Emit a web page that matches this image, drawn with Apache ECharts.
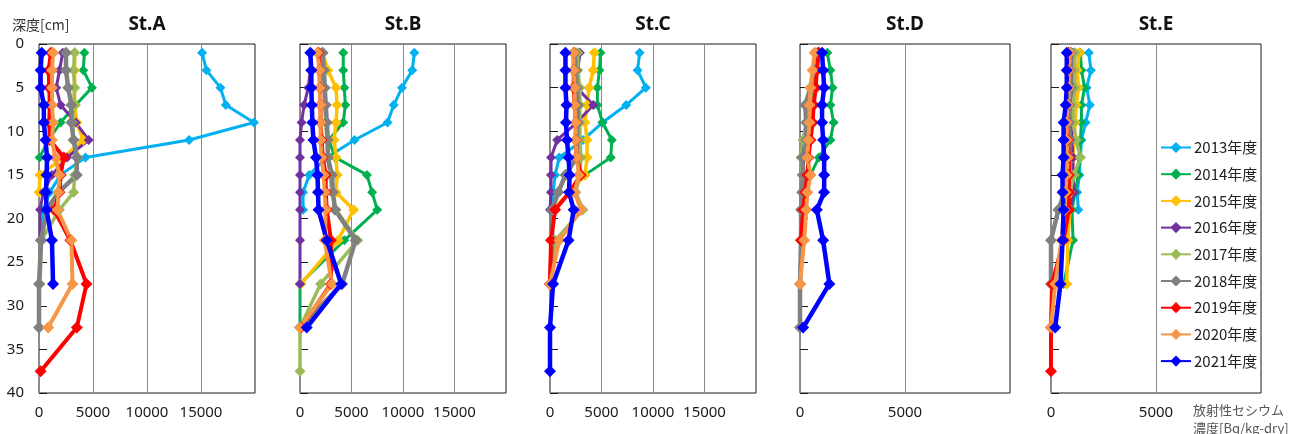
<!DOCTYPE html>
<html>
<head>
<meta charset="utf-8">
<script src="https://cdn.jsdelivr.net/npm/echarts@6/dist/echarts.min.js"></script>
<style>
  html, body { margin: 0; padding: 0; background: #fff; }
  #chart { width: 1293px; height: 434px; }
</style>
</head>
<body>
<div id="chart"></div>
<script>
// Sampling depths (cm) shared by every station
const depths = [1, 3, 5, 7, 9, 11, 13, 15, 17, 19, 22.5, 27.5, 32.5, 37.5];

const years = ['2013年度', '2014年度', '2015年度', '2016年度', '2017年度', '2018年度', '2019年度', '2020年度', '2021年度'];
const yearColors = ['#00B0F0', '#00B050', '#FFC000', '#7030A0', '#9BBB59', '#808080', '#FF0000', '#F79646', '#0000FF'];

const stations = ['St.A', 'St.B', 'St.C', 'St.D', 'St.E'];
const xMax = [20000, 20000, 20000, 10000, 10000];
const depthTicks = [0, 5, 10, 15, 20, 25, 30, 35, 40];

// Radiocaesium concentration (Bq/kg-dry) per year, one value per depth (null = not measured)
const stA = [
  [15100, 15500, 16800, 17300, 19900, 13900, 4300, 2000, 1000, 400, 300, null, null, null],
  [4200, 4100, 4900, 3400, 2000, 900, 50, null, null, null, null, null, null, null],
  [3300, 3300, 3300, 3300, 3500, 4100, 2300, 100, 0, null, null, null, null, null],
  [2200, 1900, 1600, 2000, 3400, 4600, 2600, 1200, 400, 100, 100, null, null, null],
  [3300, 3200, 3300, 3200, 3100, 3200, 3600, 3300, 3200, 1900, 200, 100, null, null],
  [2500, 2500, 2700, 3000, 3000, 3200, 3500, 3500, 1800, 700, 200, 0, 0, null],
  [1100, 900, 950, 1000, 950, 1000, 2300, 2000, 1900, 1400, 2900, 4400, 3500, 150],
  [1300, 1200, 1200, 1200, 1300, 1200, 1500, 1900, 1800, 1700, 3000, 3100, 850, null],
  [250, 150, 150, 450, 450, 600, 750, 700, 650, 700, 1200, 1300, null, null]
];
const stB = [
  [11100, 10900, 9900, 9100, 8500, 5300, 2600, 900, 300, 300, null, null, null, null],
  [4200, 4200, 4300, 4400, 4200, 2800, 3400, 6500, 7000, 7500, 4300, 0, 0, null],
  [2200, 2700, 3500, 3600, 3500, 3300, 3500, 3600, 3500, 5200, 3700, 100, null, null],
  [1000, 1000, 800, 400, 150, 0, 0, 0, 0, 0, 0, 0, null, null],
  [2100, 2400, 2400, 2400, 2500, 2600, 2700, 2900, 3100, 3500, 5600, 2000, 0, 0],
  [2200, 2300, 2400, 2500, 2600, 2700, 2700, 3100, 3200, 3400, 5400, 4100, 0, null],
  [1800, 1900, 1950, 2000, 2000, 2100, 2200, 2500, 2500, 2600, 3000, 3000, 100, null],
  [1700, 1900, 1900, 2000, 2000, 2000, 2100, 2300, 2400, 2500, 2400, 3100, 0, null],
  [1000, 1100, 1100, 1150, 1200, 1300, 1550, 1700, 1750, 1800, 2600, 4000, 650, null]
];
const stC = [
  [8700, 8500, 9300, 7400, 5100, 3200, 900, 500, 300, 200, null, null, null, null],
  [4900, 4800, 4600, 4600, 5100, 6000, 5900, 3400, null, null, null, null, null, null],
  [4300, 4200, 3800, 3600, 3400, 3600, 3600, 3400, 1900, 300, null, null, null, null],
  [2900, 2700, 2600, 4200, 2600, 700, 100, 100, 100, 0, null, null, null, null],
  [2700, 2700, 2900, 2900, 2900, 2900, 3000, 2900, 2500, 3200, 500, 0, null, null],
  [2400, 2500, 2600, 2700, 2700, 2600, 2600, 1500, 800, 200, 200, 0, null, null],
  [2300, 2300, 2300, 2400, 2500, 2500, 2600, 3000, 1900, 500, 100, 0, null, null],
  [2300, 2300, 2400, 2400, 2500, 2500, 2600, 2800, 2400, 3000, 900, 0, null, null],
  [1500, 1500, 1500, 1600, 1550, 1650, 1800, 1900, 1850, 2300, 1800, 300, 0, 0]
];
const stD = [
  [null, null, null, null, null, null, null, null, null, null, null, null, null, null],
  [1300, 1450, 1550, 1450, 1600, 1450, 900, 500, null, null, null, null, null, null],
  [null, null, null, null, null, null, null, null, null, null, null, null, null, null],
  [800, 700, 600, 500, 300, 150, 200, 100, null, null, null, null, null, null],
  [900, 800, 650, 500, 300, 150, 50, 100, null, null, null, null, null, null],
  [850, 700, 500, 250, 300, 300, 100, 150, 100, 50, 50, 0, 0, null],
  [900, 800, 750, 650, 600, 500, 400, 350, 250, 150, 50, null, null, null],
  [700, 600, 500, 450, 450, 400, 350, 500, 350, 300, 200, 0, null, null],
  [1050, 1100, 1150, 1050, 1050, 1100, 1150, 1150, 1150, 800, 1100, 1400, 150, null]
];
const stE = [
  [1800, 1900, 1700, 1850, 1650, 1450, 1400, 1350, 1250, 1300, null, null, null, null],
  [1400, 1450, 1600, 1450, 1450, 1400, 1350, 1300, 1150, 1000, 1050, 600, null, null],
  [1350, 1250, 1300, 1200, 1150, 1100, 1050, 1000, 950, 900, 800, 750, null, null],
  [1050, 1000, 1050, 950, 950, 1000, 1050, 1050, 1100, 900, null, null, null, null],
  [1150, 1100, 1150, 1050, 1050, 1200, 1400, 1100, 900, 700, null, null, null, null],
  [950, 900, 950, 850, 850, 900, 850, 800, 650, 350, 0, 0, null, null],
  [850, 850, 800, 800, 750, 800, 850, 850, 850, 850, 600, 50, 0, 0],
  [900, 850, 850, 800, 750, 750, 800, 750, 700, 650, 500, 200, 0, null],
  [750, 750, 750, 700, 600, 600, 600, 550, 550, 600, 550, 450, 200, null]
];
const stationData = [stA, stB, stC, stD, stE];

// Presentation
const lineWidths = [3, 3, 3.5, 3, 3.5, 4.5, 4, 4, 4.5];
const symbolSizes = [10, 10, 11, 10, 11, 12, 12, 12, 12];
const gridBoxes = [
  { left: 39, width: 216 },
  { left: 300, width: 206 },
  { left: 550, width: 206 },
  { left: 800, width: 210 },
  { left: 1051, width: 210 }
];
const numFont = "'Noto Sans', 'Open Sans', sans-serif";
const jpFont = "'Noto Sans CJK JP', 'Noto Sans', sans-serif";

const grids = [], xAxes = [], yAxes = [], series = [], graphics = [];

gridBoxes.forEach((g, i) => {
  grids.push({
    left: g.left, top: 44, width: g.width, height: 349,
    show: true, borderColor: '#1a1a1a', borderWidth: 1, backgroundColor: 'transparent'
  });
  xAxes.push({
    gridIndex: i, type: 'value', min: 0, max: xMax[i], interval: 5000,
    axisLine: { show: false }, axisTick: { show: false },
    splitLine: { show: true, lineStyle: { color: '#8a8a8a', width: 1 } },
    axisLabel: { showMaxLabel: false, fontSize: 15, color: '#1a1a1a', fontFamily: numFont, margin: 12,
                 formatter: v => String(v) }
  });
  yAxes.push({
    gridIndex: i, type: 'value', inverse: true, min: depthTicks[0],
    max: depthTicks[depthTicks.length - 1], interval: 5,
    axisLine: { show: false },
    axisTick: { show: true, inside: true, length: 8, lineStyle: { color: '#1a1a1a', width: 1 } },
    splitLine: { show: false },
    axisLabel: { show: i === 0, fontSize: 15, color: '#1a1a1a', fontFamily: numFont, margin: 15 }
  });
  graphics.push({
    type: 'text', x: g.left + g.width / 2, y: 25,
    style: { text: stations[i], fontSize: 19, fontWeight: 'bold', fontFamily: numFont,
             fill: '#111', align: 'center', verticalAlign: 'middle' }
  });

  stationData[i].forEach((vals, k) => {
    const pts = [];
    vals.forEach((v, j) => { if (v !== null) pts.push([v, depths[j]]); });
    if (!pts.length) return;
    series.push({
      name: years[k], type: 'line', xAxisIndex: i, yAxisIndex: i,
      data: pts, clip: false,
      symbol: 'diamond', symbolSize: symbolSizes[k],
      lineStyle: { color: yearColors[k], width: lineWidths[k] },
      itemStyle: { color: yearColors[k] },
      emphasis: { disabled: true },
      animation: false
    });
  });
});

graphics.push(
  { type: 'text', x: 12, y: 25,
    style: { text: '深度[cm]', fontSize: 14, fontFamily: jpFont, fill: '#333', verticalAlign: 'middle' } },
  { type: 'text', x: 1193, y: 410,
    style: { text: '放射性セシウム', fontSize: 13, fontFamily: jpFont, fill: '#555', verticalAlign: 'middle' } },
  { type: 'text', x: 1193, y: 428,
    style: { text: '濃度[Bq/kg-dry]', fontSize: 13, fontFamily: jpFont, fill: '#555', verticalAlign: 'middle' } }
);

const chart = echarts.init(document.getElementById('chart'), null, { renderer: 'canvas' });
chart.setOption({
  animation: false,
  backgroundColor: '#fff',
  grid: grids,
  xAxis: xAxes,
  yAxis: yAxes,
  legend: {
    data: years, orient: 'vertical', left: 1160, top: 140,
    itemWidth: 30, itemHeight: 14, itemGap: 11.7, padding: 0,
    textStyle: { fontSize: 15, fontFamily: jpFont, color: '#222', padding: [0, 0, 0, -2] },
    selectedMode: false
  },
  graphic: graphics,
  series: series
});
</script>
</body>
</html>
